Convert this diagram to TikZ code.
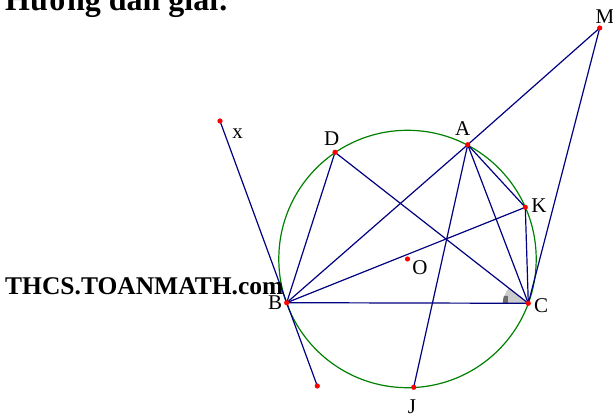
\documentclass[tikz,border=0pt]{standalone}
\usepackage{fontspec}
\setmainfont{Liberation Serif}
\usetikzlibrary{calc}
\definecolor{navyline}{RGB}{0,0,128}
\definecolor{circgreen}{RGB}{0,128,0}
\tikzset{
  seg/.style={draw=navyline, line width=1.2pt},
  circ/.style={draw=circgreen, line width=1.2pt},
  dot/.style={fill=red},
  lbl/.style={anchor=base, inner sep=0pt, font=\fontsize{21}{25}\selectfont},
}
\begin{document}
\begin{tikzpicture}[x=1pt,y=1pt]
\useasboundingbox (0,0) rectangle (613,414);
\clip (0,0) rectangle (613,414);
% points
\coordinate (X) at (220,293);
\coordinate (D) at (335,261.7);
\coordinate (A) at (467.7,269.3);
\coordinate (K) at (525.3,206.7);
\coordinate (C) at (528.3,110.7);
\coordinate (B) at (286.7,111.3);
\coordinate (J) at (413.7,26.7);
\coordinate (L) at (317.3,28);
\coordinate (M) at (599.7,386);
\coordinate (O) at (407.5,155);
% angle mark at C
\fill[gray!40] (C) -- ++(-25,0) arc[start angle=180, end angle=142, radius=25] -- cycle;
\fill[gray!85!black] ($(C)+(-25.5,0)$) arc[start angle=180, end angle=163, radius=25.5] -- ($(C)+(-20.5,7.5)$) -- ($(C)+(-20.5,0)$) -- cycle;
% circle
\draw[circ] (O) circle[radius=128.7];
% lines
\draw[seg] (X) -- (L);
\draw[seg] (B) -- (A);
\draw[seg] (A) -- (M);
\draw[seg] (M) -- (C);
\draw[seg] (D) -- (B);
\draw[seg] (D) -- (C);
\draw[seg] (A) -- (J);
\draw[seg] (A) -- (C);
\draw[seg] (A) -- (K);
\draw[seg] (B) -- (K);
\draw[seg] (B) -- (C);
\draw[seg] (K) -- (C);
% dots
\foreach \p in {X,D,A,K,C,B,J,L,M,O}{\fill[dot] (\p) circle[radius=2.6];}
% labels
\node[lbl] (lx) at (237.5,275.7) {x};
\node[lbl] (lD) at (331.7,268.3) {D};
\node[lbl] (lA) at (462.7,278) {A};
\node[lbl] (lK) at (539,201.3) {K};
\node[lbl] (lC) at (541,101.3) {C};
\node[lbl] (lB) at (275,104) {B};
\node[lbl] (lO) at (420,139) {O};
\node[lbl] (lJ) at (412,0) {J};
\node[lbl] (lM) at (605,390) {M};
% texts
\node[anchor=base west, inner sep=0pt, font=\fontsize{25.5}{30}\selectfont\bfseries] (site) at (5,119) {THCS.TOANMATH.com};
\node[anchor=base west, inner sep=0pt, font=\fontsize{32}{38}\selectfont\bfseries] (head) at (5,403) {Hướng dẫn giải:};
\end{tikzpicture}
\end{document}
